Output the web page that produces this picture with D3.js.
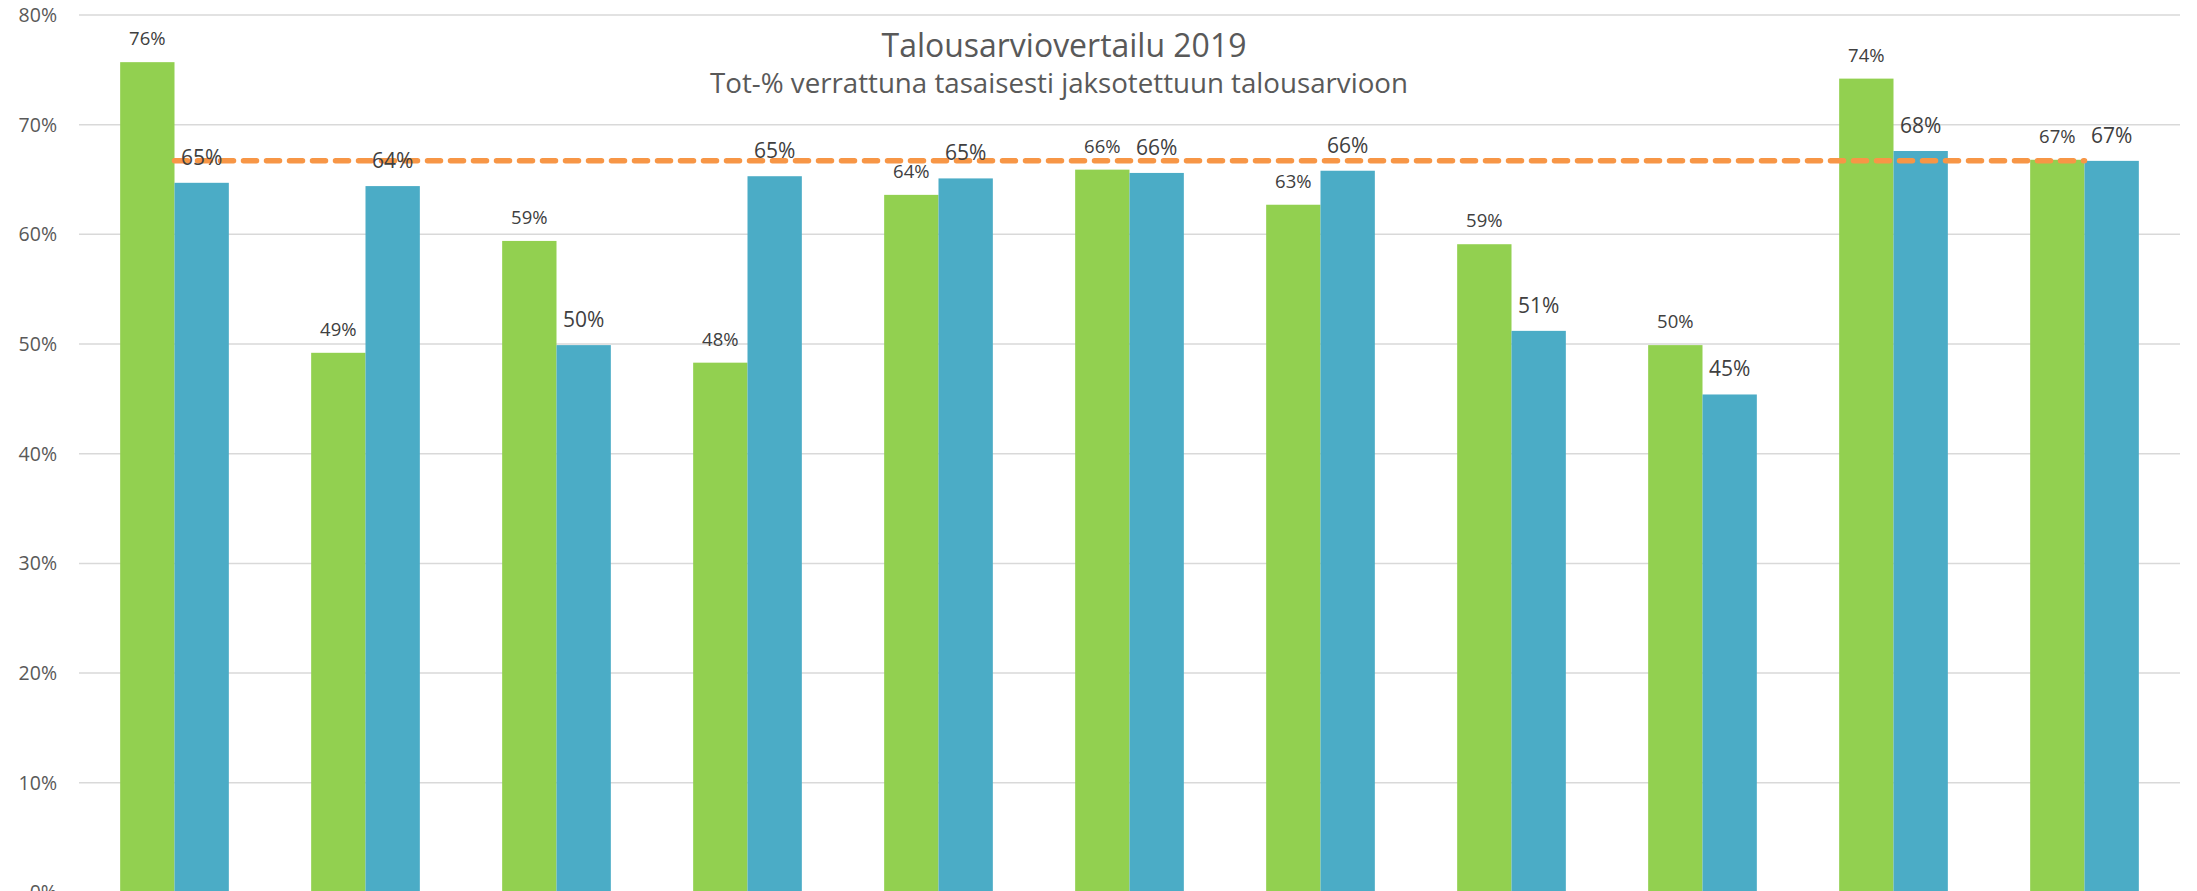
<!DOCTYPE html>
<html>
<head>
<meta charset="utf-8">
<script src="https://cdn.jsdelivr.net/npm/d3@7"></script>
<style>
  html, body { margin: 0; padding: 0; background: #ffffff; overflow: hidden; }
  svg { display: block; }
  text { font-family: "Open Sans", "DejaVu Sans", sans-serif; }
</style>
</head>
<body>
<svg id="chart" width="2197" height="891"></svg>
<script>
// ---- data ----
const categories = ["1", "2", "3", "4", "5", "6", "7", "8", "9", "10", "11"];
const seriesGreen = [0.757, 0.492, 0.594, 0.483, 0.636, 0.659, 0.627, 0.591, 0.499, 0.742, 0.668];
const seriesBlue  = [0.647, 0.644, 0.499, 0.653, 0.651, 0.656, 0.658, 0.512, 0.454, 0.676, 0.667];
const targetLine  = [0.667, 0.667, 0.667, 0.667, 0.667, 0.667, 0.667, 0.667, 0.667, 0.667, 0.667];
const yTicks = [0, 0.1, 0.2, 0.3, 0.4, 0.5, 0.6, 0.7, 0.8];
const titleText = "Talousarviovertailu 2019";
const subtitleText = "Tot-% verrattuna tasaisesti jaksotettuun talousarvioon";

// ---- layout ----
const svg = d3.select("#chart");
const plot = { left: 79, right: 2180, top: 15, bottom: 892.4 };

const y = d3.scaleLinear().domain([0, 0.8]).range([plot.bottom, plot.top]);
const x = d3.scaleBand().domain(categories).range([plot.left, plot.right])
  .paddingInner(0.431).paddingOuter(0.2155);
const xs = d3.scaleBand().domain(["g", "b"]).range([0, x.bandwidth()]);

const fmt = d3.format(".0%");

// gridlines
svg.append("g").selectAll("line").data(yTicks).join("line")
  .attr("x1", plot.left).attr("x2", plot.right)
  .attr("y1", d => y(d)).attr("y2", d => y(d))
  .attr("stroke", "#d9d9d9").attr("stroke-width", 1.5);

// y axis labels
svg.append("g").selectAll("text").data(yTicks).join("text")
  .attr("x", 57).attr("y", d => y(d))
  .attr("dy", "0.35em")
  .attr("text-anchor", "end")
  .attr("font-size", "19.5px")
  .attr("fill", "#595959")
  .text(d => fmt(d));

// bars
const gBars = svg.append("g");
gBars.selectAll("rect.g").data(seriesGreen).join("rect").attr("class", "g")
  .attr("x", (d, i) => x(categories[i]) + xs("g"))
  .attr("width", xs.bandwidth())
  .attr("y", d => y(d))
  .attr("height", d => y(0) - y(d))
  .attr("fill", "#92d050");
gBars.selectAll("rect.b").data(seriesBlue).join("rect").attr("class", "b")
  .attr("x", (d, i) => x(categories[i]) + xs("b"))
  .attr("width", xs.bandwidth())
  .attr("y", d => y(d))
  .attr("height", d => y(0) - y(d))
  .attr("fill", "#4bacc6");

// dashed target line
const line = d3.line()
  .x((d, i) => x(categories[i]) + x.bandwidth() / 2)
  .y(d => y(d));
svg.append("path").datum(targetLine)
  .attr("d", line)
  .attr("fill", "none")
  .attr("stroke", "#f79646")
  .attr("stroke-width", 5.5)
  .attr("stroke-linecap", "round")
  .attr("stroke-dasharray", "13,10");

// data labels
svg.append("g").selectAll("text").data(seriesGreen).join("text")
  .attr("x", (d, i) => x(categories[i]) + xs("g") + xs.bandwidth() / 2)
  .attr("y", d => y(d) - 17)
  .attr("text-anchor", "middle")
  .attr("font-size", "18.5px")
  .attr("fill", "#404040")
  .text(d => fmt(d));
svg.append("g").selectAll("text").data(seriesBlue).join("text")
  .attr("x", (d, i) => x(categories[i]) + xs("b") + xs.bandwidth() / 2)
  .attr("y", d => y(d) - 18)
  .attr("text-anchor", "middle")
  .attr("font-size", "21px")
  .attr("fill", "#404040")
  .text(d => fmt(d));

// titles, sized to the reference widths
function fitText(sel, target) {
  const base = parseFloat(sel.attr("font-size"));
  const w = sel.node().getComputedTextLength();
  if (w > 0) sel.attr("font-size", (base * target / w).toFixed(2) + "px");
}
const t1 = svg.append("text")
  .attr("x", 1064).attr("y", 57)
  .attr("text-anchor", "middle")
  .attr("font-size", "30px")
  .attr("fill", "#595959")
  .text(titleText);
fitText(t1, 365);
const t2 = svg.append("text")
  .attr("x", 1059).attr("y", 93)
  .attr("text-anchor", "middle")
  .attr("font-size", "22px")
  .attr("fill", "#595959")
  .text(subtitleText);
fitText(t2, 698);
</script>
</body>
</html>
